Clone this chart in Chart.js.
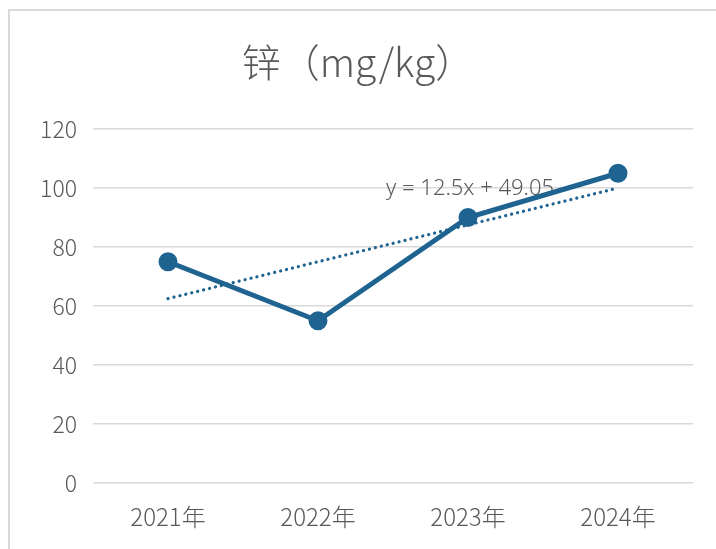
<!DOCTYPE html>
<html>
<head>
<meta charset="utf-8">
<script src="https://cdn.jsdelivr.net/npm/chart.js@4/dist/chart.umd.min.js"></script>
<style>
html,body{margin:0;padding:0;background:#fff;}
#wrap{position:relative;width:716px;height:549px;}
#frame{position:absolute;left:8px;top:9px;width:720px;height:560px;border-top:2px solid #d9d9d9;border-left:2px solid #d9d9d9;box-sizing:border-box;}
canvas{position:absolute;left:0;top:0;}
</style>
</head>
<body>
<div id="wrap">
<div id="frame"></div>
<canvas id="c" width="716" height="549"></canvas>
</div>
<script>
const categories = ['2021年', '2022年', '2023年', '2024年'];
const zincValues = [75, 55, 90, 105];
const yTicks = [0, 20, 40, 60, 80, 100, 120];
const chartTitle = '锌（mg/kg）';
const trendLabel = 'y = 12.5x + 49.05';

// least-squares linear trend of the series (x = 1..n)
function linearTrend(vals) {
  const n = vals.length;
  const xs = vals.map((_, i) => i + 1);
  const mx = xs.reduce((a, b) => a + b, 0) / n;
  const my = vals.reduce((a, b) => a + b, 0) / n;
  let num = 0, den = 0;
  for (let i = 0; i < n; i++) { num += (xs[i] - mx) * (vals[i] - my); den += (xs[i] - mx) ** 2; }
  const m = num / den, b = my - m * mx;
  return xs.map(x => m * x + b);
}
const trendValues = linearTrend(zincValues);

const FONT = '"Noto Sans CJK SC", "Noto Sans", sans-serif';
const GREY = '#595959';
const LINE = '#1f6391';

const overlay = {
  id: 'overlay',
  beforeDatasetsDraw(chart) {
    const ctx = chart.ctx;
    const xs = chart.scales.x, ys = chart.scales.y;
    ctx.save();
    ctx.font = '300 22px "Noto Sans", "Liberation Sans", sans-serif';
    ctx.fillStyle = GREY;
    ctx.textAlign = 'left';
    ctx.textBaseline = 'middle';
    ctx.fillText(trendLabel, xs.getPixelForValue(2) - 82, ys.getPixelForValue(100) + 1);
    ctx.restore();
  },
  afterDraw(chart) {
    const ctx = chart.ctx;
    ctx.save();
    ctx.font = '300 39px ' + FONT;
    ctx.fillStyle = GREY;
    ctx.textAlign = 'center';
    ctx.textBaseline = 'middle';
    ctx.fillText(chartTitle, 358, 62);
    ctx.restore();
  }
};

new Chart(document.getElementById('c'), {
  type: 'line',
  data: {
    labels: categories,
    datasets: [
      {
        label: '锌',
        data: zincValues,
        borderColor: LINE,
        backgroundColor: LINE,
        borderWidth: 5,
        pointRadius: 7,
        pointHoverRadius: 7,
        pointBackgroundColor: LINE,
        pointBorderColor: LINE,
        tension: 0,
        order: 1
      },
      {
        label: 'trend',
        data: trendValues,
        borderColor: LINE,
        borderWidth: 3.2,
        borderDash: [0.1, 6],
        borderCapStyle: 'round',
        pointRadius: 0,
        fill: false,
        tension: 0,
        order: 2
      }
    ]
  },
  options: {
    responsive: false,
    animation: false,
    devicePixelRatio: 1,
    layout: { padding: { left: 0, right: 23, top: 129, bottom: 0 } },
    plugins: {
      legend: { display: false },
      title: { display: false },
      tooltip: { enabled: false }
    },
    scales: {
      x: {
        offset: true,
        grid: { display: false, drawTicks: false },
        border: { display: false },
        ticks: { color: GREY, font: { family: FONT, size: 24, weight: '300' }, padding: 19, maxRotation: 0 },
        afterFit(s) { s.height = 66; }
      },
      y: {
        min: 0,
        max: 120,
        afterBuildTicks(s) { s.ticks = yTicks.map(v => ({ value: v })); },
        grid: { color: '#d9d9d9', lineWidth: 1.5, drawTicks: false },
        border: { display: false },
        ticks: { color: GREY, font: { family: FONT, size: 23, weight: '300' }, padding: 16 },
        afterFit(s) { s.width = 93; }
      }
    }
  },
  plugins: [overlay]
});
</script>
</body>
</html>
